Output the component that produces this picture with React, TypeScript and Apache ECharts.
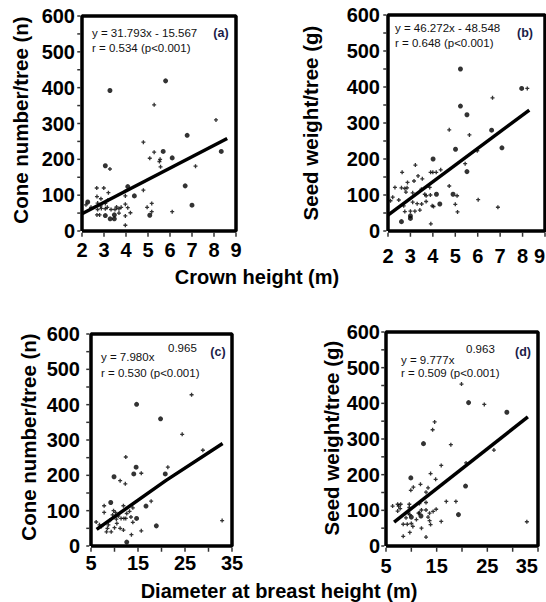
import React, { useEffect, useRef } from "react";
import * as echarts from "echarts";

// ---- data ----
// [x, y, big?]
const pointsA: number[][] = [
  [3.27, 392, 1], [5.8, 419, 1], [5.28, 352], [8.09, 310], [6.78, 267, 1], [4.79, 248], [5.69, 222, 1],
  [5.28, 220], [8.33, 222, 1], [5.08, 203], [6.1, 204, 1], [5.55, 200], [5.52, 194], [5.57, 179],
  [7.16, 181], [3.06, 182, 1], [3.27, 173], [6.69, 126, 1], [7.0, 72, 1], [6.1, 54], [5.17, 77],
  [4.96, 66], [5.17, 54], [5.08, 44, 1], [4.79, 114], [4.38, 98, 1], [4.08, 124, 1], [3.97, 111],
  [3.97, 98], [3.97, 75], [4.08, 65], [4.2, 51], [3.97, 42], [3.97, 16], [3.78, 66], [3.68, 62],
  [3.57, 67], [3.68, 50], [3.47, 45, 1], [3.47, 34, 1], [3.28, 34, 1], [3.06, 43, 1], [3.06, 62],
  [3.06, 77], [3.17, 86], [3.2, 107], [2.99, 120], [2.67, 120], [2.68, 96], [2.86, 90], [2.71, 78],
  [2.85, 70], [2.71, 60], [2.68, 45], [2.8, 45], [2.26, 81, 1], [2.18, 73], [2.41, 66], [3.32, 60],
  [3.5, 60], [2.88, 63], [3.15, 66],
];
const pointsB: number[][] = [
  [5.23, 450, 1], [7.96, 396, 1], [8.21, 396], [6.66, 370], [5.23, 347, 1], [5.52, 323, 1], [4.73, 281],
  [6.62, 280, 1], [5.63, 267], [7.08, 231, 1], [5.01, 227, 1], [5.98, 223], [4.01, 200, 1], [5.44, 187],
  [5.52, 165, 1], [3.22, 183], [2.63, 163], [3.9, 163], [4.0, 163], [4.15, 163], [4.35, 170], [3.34, 153],
  [3.53, 145], [3.16, 139], [2.87, 135], [2.31, 121], [2.6, 120], [2.75, 118], [2.85, 120], [2.8, 108],
  [3.1, 106], [3.49, 116], [3.86, 121], [4.73, 125], [2.21, 94], [2.11, 84], [2.48, 86], [3.64, 102],
  [3.7, 98], [3.7, 82], [3.89, 100], [4.16, 102, 1], [4.9, 102, 1], [5.08, 98], [6.02, 87], [6.9, 66],
  [5.0, 74], [5.1, 53], [4.31, 75, 1], [3.97, 70], [4.03, 68], [3.42, 58], [3.2, 55], [3.0, 55],
  [3.0, 42, 1], [2.75, 54], [2.6, 26, 1], [3.91, 20], [3.0, 35, 1], [2.7, 70], [3.1, 80], [3.5, 75], [3.3, 76],
];
const pointsC: number[][] = [
  [26.4, 428], [14.7, 401, 1], [19.8, 360, 1], [24.4, 316], [28.8, 271], [12.4, 252], [14.6, 223, 1],
  [21.35, 223], [15.7, 206], [14.1, 204, 1], [20.8, 204, 1], [9.9, 196, 1], [11.2, 185], [12.3, 176],
  [17.8, 127], [16.7, 113, 1], [32.9, 72], [18.9, 57, 1], [15.7, 43], [12.6, 11, 1], [13.6, 32],
  [14.7, 78, 1], [13.9, 67], [13.5, 82], [11.9, 114], [9.2, 123, 1], [7.8, 114], [7.8, 95], [6.1, 68],
  [8.3, 40], [9.3, 40], [10, 52], [11.9, 45], [12.0, 78], [12.4, 78], [11.4, 78], [13.9, 108], [7.2, 55],
  [6.8, 60], [8.7, 60], [9.0, 72], [10.4, 76], [10.5, 64], [11.2, 50], [12.6, 92], [9.6, 88], [10.2, 95],
  [9.8, 100], [10.8, 85], [8.5, 50], [13.2, 98],
];
const pointsD: number[][] = [
  [19.9, 454], [21.3, 402, 1], [24.4, 397], [28.85, 375, 1], [14.6, 348], [14.2, 326], [12.4, 287, 1],
  [17.8, 284], [26.3, 269], [15.9, 226], [20.8, 233], [20.7, 168, 1], [9.9, 191, 1], [14.8, 187],
  [13.8, 203], [11.8, 173], [10.4, 165], [9.9, 156], [12.9, 151], [13.3, 163], [16.9, 125], [18.8, 125],
  [15.9, 69], [19.3, 88, 1], [32.8, 68], [6.3, 112], [7.3, 117], [7.9, 117], [7.5, 112], [7.8, 105],
  [7.3, 98], [9.6, 117], [9.6, 108], [9.4, 92], [9.7, 88], [11.6, 119], [12.9, 122], [12.9, 101],
  [12.0, 101], [11.4, 92], [10.0, 81, 1], [10.0, 63], [10.3, 55], [8.95, 79], [8.4, 61], [9.2, 61],
  [9.7, 38], [8.4, 27], [11.9, 84, 1], [11.0, 74], [13.3, 81], [13.6, 71], [13.8, 60], [12.0, 50],
  [12.9, 25], [13.6, 92], [14.3, 97], [14.9, 103], [11.6, 93],
];
// fitted lines as drawn
const fitA = [[2, 48], [8.6, 258]];
const fitB = [[2, 44], [8.3, 336]];
const fitC = [[6.2, 47], [20.9, 185], [33, 290]];
const fitD = [[6.6, 67], [33, 362]];

// axis scales: [min, max, label interval, tick step]
const heightScale = [2, 9, 1, 1];
const dbhScale = [5, 35, 10, 5];
const yScale = [0, 600, 100, 50];

const eqA = ["y = 31.793x - 15.567", "r = 0.534 (p<0.001)"];
const eqB = ["y = 46.272x - 48.548", "r = 0.648 (p<0.001)"];
const eqC = ["y = 7.980x", "0.965", "r = 0.530 (p<0.001)"];
const eqD = ["y = 9.777x", "0.963", "r = 0.509 (p<0.001)"];
const panelTags = ["(a)", "(b)", "(c)", "(d)"];
const yTitles = ["Cone number/tree (n)", "Seed weight/tree (g)"];
const xTitles = ["Crown height (m)", "Diameter at breast height (m)"];

const FONT = "Liberation Sans, Arial, Helvetica, sans-serif";
const PLUS = "path://M1,0H2V1H3V2H2V3H1V2H0V1H1Z";
const BAR = "path://M0,0H1V1H0Z";
const LW = 3.5;
const PAD = 12; // extra room of the frame layers around each plot box

const stepsOf = (s: number[]) => {
  const out: number[] = [];
  for (let v = s[0]; v <= s[1] + 1e-9; v += s[3]) out.push(v);
  return out;
};

export default function App() {
  const ref = useRef<HTMLDivElement>(null);

  useEffect(() => {
    if (!ref.current) return;
    const chart = echarts.init(ref.current, undefined, { renderer: "svg" });

    const boxes = [
      { left: 82, top: 16, width: 154, height: 215 },
      { left: 388, top: 15, width: 157, height: 216 },
      { left: 91, top: 334, width: 141, height: 212 },
      { left: 386, top: 332, width: 152, height: 214 },
    ];
    const xScales = [heightScale, heightScale, dbhScale, dbhScale];

    // data grids 0..3, frame layers 4..7 (same boxes, padded, with hidden axes)
    const grids: any[] = [
      ...boxes.map((g) => ({ ...g, show: false, outerBoundsMode: "none" })),
      ...boxes.map((g) => ({
        left: g.left - PAD,
        top: g.top - PAD,
        width: g.width + 2 * PAD,
        height: g.height + 2 * PAD,
        show: false,
        outerBoundsMode: "none",
      })),
    ];

    const xMargins = [9, 15, 7, 10];
    const yMargins = [7, 8, 11, 6];

    const xAxis: any[] = [0, 1, 2, 3].map((i) => {
      const t = xScales[i];
      return {
        type: "value",
        gridIndex: i,
        min: t[0],
        max: t[1],
        interval: t[2],
        axisLine: { show: false },
        axisTick: { show: false },
        splitLine: { show: false },
        axisLabel: {
          color: "#000",
          fontSize: 20,
          fontWeight: "bold",
          fontFamily: FONT,
          margin: xMargins[i],
          alignMaxLabel: i % 2 === 1 ? "right" : "center",
        },
      };
    });
    const yAxis: any[] = [0, 1, 2, 3].map((i) => ({
      type: "value",
      gridIndex: i,
      min: yScale[0],
      max: yScale[1],
      interval: yScale[2],
      axisLine: { show: false },
      axisTick: { show: false },
      splitLine: { show: false },
      axisLabel: {
        color: "#000",
        fontSize: 20,
        fontWeight: "bold",
        fontFamily: FONT,
        margin: yMargins[i],
      },
    }));
    // hidden axes of the frame layers: same scale, widened by PAD pixels each side
    [0, 1, 2, 3].forEach((i) => {
      const b = boxes[i];
      const xs = xScales[i];
      const dx = (PAD * (xs[1] - xs[0])) / b.width;
      const dy = (PAD * (yScale[1] - yScale[0])) / b.height;
      xAxis.push({ type: "value", gridIndex: 4 + i, min: xs[0] - dx, max: xs[1] + dx, show: false });
      yAxis.push({ type: "value", gridIndex: 4 + i, min: yScale[0] - dy, max: yScale[1] + dy, show: false });
    });

    const pts = [pointsA, pointsB, pointsC, pointsD];
    const fits = [fitA, fitB, fitC, fitD];
    const series: any[] = [];
    pts.forEach((p, i) => {
      const xs = xScales[i];
      const x0 = xs[0], x1 = xs[1], y0 = yScale[0], y1 = yScale[1];
      const L = 4 + i;
      // frame of the plot box
      series.push({
        type: "line",
        xAxisIndex: L,
        yAxisIndex: L,
        data: [[x0, y0], [x0, y1], [x1, y1], [x1, y0], [x0, y0]],
        showSymbol: false,
        symbol: "none",
        lineStyle: { color: "#000", width: LW },
      });
      // x ticks below the frame
      series.push({
        type: "scatter",
        xAxisIndex: L,
        yAxisIndex: L,
        data: stepsOf(xs).map((v) => [v, y0]),
        symbol: BAR,
        symbolSize: [1.5, 4],
        symbolOffset: [0, LW / 2 + 2],
        itemStyle: { color: "#000" },
      });
      // y ticks left of the frame
      series.push({
        type: "scatter",
        xAxisIndex: L,
        yAxisIndex: L,
        data: stepsOf(yScale).map((v) => [x0, v]),
        symbol: BAR,
        symbolSize: [3, 1.5],
        symbolOffset: [-(LW / 2 + 1.5), 0],
        itemStyle: { color: "#000" },
      });
      series.push({
        type: "scatter",
        xAxisIndex: i,
        yAxisIndex: i,
        data: p.filter((d) => !d[2]).map((d) => [d[0], d[1]]),
        symbol: PLUS,
        symbolSize: 4,
        itemStyle: { color: "#000" },
      });
      series.push({
        type: "scatter",
        xAxisIndex: i,
        yAxisIndex: i,
        data: p.filter((d) => d[2]).map((d) => [d[0], d[1]]),
        symbol: "circle",
        symbolSize: 5,
        itemStyle: { color: "#000" },
      });
      series.push({
        type: "line",
        xAxisIndex: i,
        yAxisIndex: i,
        data: fits[i],
        showSymbol: false,
        symbol: "none",
        lineStyle: { color: "#000", width: LW },
      });
    });

    const txt = (x: number, y: number, text: string, extra: any = {}) => ({
      type: "text",
      x,
      y,
      style: {
        text,
        fontFamily: FONT,
        fontSize: 11.5,
        fill: "#111",
        align: "left",
        verticalAlign: "middle",
        ...extra,
      },
    });
    const tag = (x: number, y: number, text: string) =>
      txt(x, y, text, { fontSize: 12.5, fontWeight: "bold", fill: "#1c1c48", align: "center" });
    const ytitle = (x: number, y: number, text: string) => ({
      type: "text",
      x,
      y,
      rotation: Math.PI / 2,
      style: {
        text,
        fontFamily: FONT,
        fontSize: 20.5,
        fontWeight: "bold",
        fill: "#000",
        align: "center",
        verticalAlign: "middle",
      },
    });
    const xtitle = (x: number, y: number, text: string) => ({
      type: "text",
      x,
      y,
      style: {
        text,
        fontFamily: FONT,
        fontSize: 20,
        fontWeight: "bold",
        fill: "#000",
        align: "center",
        verticalAlign: "middle",
      },
    });

    const graphic = [
      txt(92, 33, eqA[0]),
      txt(92, 48, eqA[1]),
      tag(221, 33, panelTags[0]),
      txt(395, 28, eqB[0]),
      txt(395, 43, eqB[1]),
      tag(525, 33, panelTags[1]),
      txt(101, 357, eqC[0]),
      txt(168, 348, eqC[1]),
      txt(101, 373, eqC[2]),
      tag(218, 352, panelTags[2]),
      txt(401, 360, eqD[0]),
      txt(466, 349, eqD[1]),
      txt(401, 373, eqD[2]),
      tag(523, 352, panelTags[3]),
      ytitle(20, 120, yTitles[0]),
      ytitle(310, 123, yTitles[1]),
      ytitle(28, 437, yTitles[0]),
      ytitle(331, 438, yTitles[1]),
      xtitle(257, 277, xTitles[0]),
      xtitle(279, 591, xTitles[1]),
    ];

    chart.setOption({
      animation: false,
      grid: grids,
      xAxis,
      yAxis,
      series,
      graphic,
    });

    return () => chart.dispose();
  }, []);

  return <div ref={ref} style={{ position: "absolute", left: 0, top: 0, width: 546, height: 602 }} />;
}
